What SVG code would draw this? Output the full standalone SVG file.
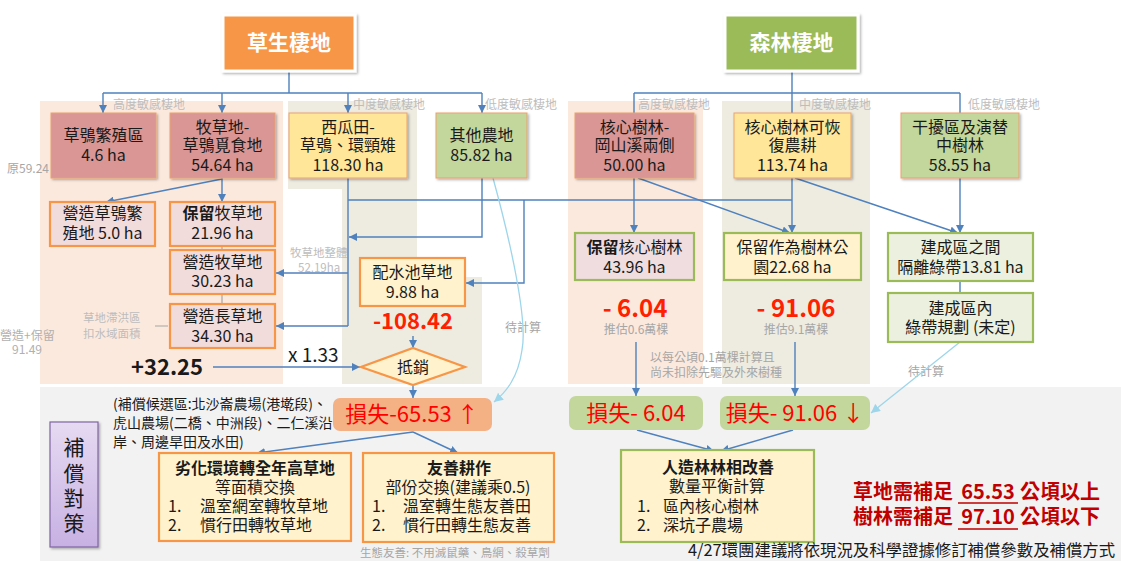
<svg xmlns="http://www.w3.org/2000/svg" width="1121" height="561" viewBox="0 0 1121 561">
<style>
text{font-family:"Noto Sans CJK TC","Noto Sans CJK SC",sans-serif;fill:#1a1a1a}
.n16{font-size:16px}
.c{text-anchor:middle}
.lbl{font-size:12px;fill:#BDBDBD}
.gry{font-size:12px;fill:#A6A6A6}
.red{fill:#FF2000;font-weight:bold}
.ttl{font-size:21px;font-weight:bold;fill:#fff}
.ln{stroke:#4F81BD;stroke-width:1.4;fill:none}
.lb{stroke:#9DD5EA;stroke-width:1.3;fill:none}
.gl{stroke:#A6A6A6;stroke-width:1.2;fill:none}
.top{stroke:#EBA16E;stroke-width:1}
.pk{fill:#D99694}.yl{fill:#FFE699}.gn{fill:#C3D69B}
.ob{stroke:#F79646;stroke-width:2.2}
.gb{stroke:#9BBB59;stroke-width:2.2}
.loss{font-size:22px;fill:#FF0000}
.bold{font-weight:bold}
</style>
<defs>
<filter id="sh" x="-10%" y="-10%" width="130%" height="140%">
<feDropShadow dx="1.5" dy="1.5" stdDeviation="1" flood-color="#000" flood-opacity="0.3"/>
</filter>
<marker id="ab" viewBox="0 0 10 10" refX="10" refY="5" markerWidth="8" markerHeight="8" markerUnits="userSpaceOnUse" orient="auto">
<path d="M0,0 L10,5 L0,10 z" fill="#4F81BD"/>
</marker>
<marker id="al" viewBox="0 0 10 10" refX="10" refY="5" markerWidth="9" markerHeight="9" markerUnits="userSpaceOnUse" orient="auto">
<path d="M0,0 L10,5 L0,10 z" fill="#9DD5EA"/>
</marker>
<linearGradient id="pg" x1="0" y1="0" x2="0" y2="1">
<stop offset="0" stop-color="#E6DAF2"/>
<stop offset="1" stop-color="#C7B1E3"/>
</linearGradient>
</defs>

<g id="zones">
<rect x="40" y="101" width="243" height="283" fill="#FCE9DD"/>
<path d="M288,101 H417 V277 H482 V384 H342 V189 H288 Z" fill="#EEECE1"/>
<rect x="568" y="101" width="135" height="283" fill="#FCE9DD"/>
<rect x="722" y="101" width="148" height="283" fill="#EEECE1"/>
<rect x="40" y="387" width="1081" height="174" fill="#F2F2F2"/>
</g>

<g id="zone-labels">
<text class="lbl" x="113" y="109">高度敏感棲地</text>
<text class="lbl" x="353" y="109">中度敏感棲地</text>
<text class="lbl" x="485" y="109">低度敏感棲地</text>
<text class="lbl" x="638" y="109">高度敏感棲地</text>
<text class="lbl" x="799" y="109">中度敏感棲地</text>
<text class="lbl" x="968" y="109">低度敏感棲地</text>
<text class="gry" x="7" y="173" font-size="13">原59.24</text>
<text class="lbl" x="290" y="257" style="font-size:11.5px">牧草地整體</text>
<text class="lbl" x="298" y="272" style="font-size:11.5px">52.19ha</text>
<text class="lbl" x="83" y="322" style="font-size:11.5px">草地滯洪區</text>
<text class="lbl" x="83" y="338" style="font-size:11.5px">扣水域面積</text>
<text class="lbl" x="0" y="340" style="fill:#B0B0B0">營造+保留</text>
<text class="lbl" x="12" y="354" style="fill:#B0B0B0">91.49</text>
<text class="lbl" x="505" y="332" style="fill:#A6A6A6">待計算</text>
<text class="lbl" x="908" y="376" style="fill:#A6A6A6">待計算</text>
</g>

<g id="connectors">
<path class="ln" d="M289,71 V93 M103,93 H482"/>
<path class="ln" d="M103,93 V113" marker-end="url(#ab)"/>
<path class="ln" d="M222,93 V113" marker-end="url(#ab)"/>
<path class="ln" d="M348,93 V113" marker-end="url(#ab)"/>
<path class="ln" d="M482,93 V113" marker-end="url(#ab)"/>
<path class="ln" d="M222,178 V202" marker-end="url(#ab)"/>
<path class="ln" d="M222,179 L106,202" marker-end="url(#ab)"/>
<path class="ln" d="M348,178 V326 M348,200 H792"/>
<path class="ln" d="M348,273 H276" marker-end="url(#ab)"/>
<path class="ln" d="M348,326 H276" marker-end="url(#ab)"/>
<path class="ln" d="M524,200 V283 H466" marker-end="url(#ab)"/>
<path class="ln" d="M482,178 V237 H349" marker-end="url(#ab)"/>
<path class="gl" d="M222,246 V250 M222,294 V304 M155,326 H168"/>
<path class="ln" d="M413,336 V348" marker-end="url(#ab)"/>
<path class="ln" d="M413,385 V398" marker-end="url(#ab)"/>
<path class="ln" d="M213,367 H360" marker-end="url(#ab)"/>
<path class="ln" d="M413,432 L257,453" marker-end="url(#ab)"/>
<path class="ln" d="M413,432 L458,453" marker-end="url(#ab)"/>
<path class="lb" d="M493,178 C510,240 528,320 522,350 C518,378 506,392 494,402" marker-end="url(#al)"/>
<path class="ln" d="M792,71 V93 M634,93 H960 M634,93 V113 M792,93 V113 M960,93 V113 M960,281 V293"/>
<path class="ln" d="M634,178 V233" marker-end="url(#ab)"/>
<path class="ln" d="M638,178 L790,233" marker-end="url(#ab)"/>
<path class="ln" d="M792,178 V233" marker-end="url(#ab)"/>
<path class="ln" d="M795,178 L958,233" marker-end="url(#ab)"/>
<path class="ln" d="M960,178 V233" marker-end="url(#ab)"/>
<path class="ln" d="M636,342 V396" marker-end="url(#ab)"/>
<path class="ln" d="M795,342 V396" marker-end="url(#ab)"/>
<path class="ln" d="M637,430 L714,451" marker-end="url(#ab)"/>
<path class="ln" d="M793,430 L721,451" marker-end="url(#ab)"/>
<path class="lb" d="M960,342 L871,413" marker-end="url(#al)"/>
</g>

<g id="title-grass">
<rect x="223" y="15" width="132" height="56" fill="#F79646" stroke="#fff" stroke-width="3" filter="url(#sh)"/>
<text class="ttl c" x="289" y="50">草生棲地</text>
</g>
<g id="title-forest">
<rect x="725" y="15" width="133" height="56" fill="#9BBB59" stroke="#fff" stroke-width="3" filter="url(#sh)"/>
<text class="ttl c" x="791.5" y="50">森林棲地</text>
</g>

<g id="n-breeding">
<rect class="pk top" x="51" y="113" width="105" height="65" filter="url(#sh)"/>
<text class="n16 c" x="103.5" y="141">草鴞繁殖區</text>
<text class="n16 c" x="103.5" y="161">4.6 ha</text>
</g>
<g id="n-pasture">
<rect class="pk top" x="170" y="113" width="105" height="65" filter="url(#sh)"/>
<text class="n16 c" x="222.5" y="133">牧草地-</text>
<text class="n16 c" x="222.5" y="151">草鴞覓食地</text>
<text class="n16 c" x="222.5" y="171">54.64 ha</text>
</g>
<g id="n-melon">
<rect class="yl top" x="289" y="113" width="118" height="65" filter="url(#sh)"/>
<text class="n16 c" x="348" y="133">西瓜田-</text>
<text class="n16 c" x="348" y="151">草鴞、環頸雉</text>
<text class="n16 c" x="348" y="171">118.30 ha</text>
</g>
<g id="n-other">
<rect class="gn top" x="436" y="113" width="91" height="65" filter="url(#sh)"/>
<text class="n16 c" x="481.5" y="141">其他農地</text>
<text class="n16 c" x="481.5" y="161">85.82 ha</text>
</g>
<g id="n-core">
<rect class="pk top" x="575" y="113" width="119" height="65" filter="url(#sh)"/>
<text class="n16 c" x="634.5" y="133">核心樹林-</text>
<text class="n16 c" x="634.5" y="151">岡山溪兩側</text>
<text class="n16 c" x="634.5" y="171">50.00 ha</text>
</g>
<g id="n-core-farm">
<rect class="yl top" x="734" y="113" width="117" height="65" filter="url(#sh)"/>
<text class="n16 c" x="792.5" y="133">核心樹林可恢</text>
<text class="n16 c" x="792.5" y="151">復農耕</text>
<text class="n16 c" x="792.5" y="171">113.74 ha</text>
</g>
<g id="n-disturb">
<rect class="gn top" x="901" y="113" width="118" height="65" filter="url(#sh)"/>
<text class="n16 c" x="960" y="133">干擾區及演替</text>
<text class="n16 c" x="960" y="151">中樹林</text>
<text class="n16 c" x="960" y="171">58.55 ha</text>
</g>

<g id="n-make-breeding">
<rect class="ob" x="50" y="202" width="105" height="44" fill="#F2DCDB"/>
<text class="n16 c" x="102.5" y="219">營造草鴞繁</text>
<text class="n16 c" x="102.5" y="239">殖地 5.0 ha</text>
</g>
<g id="n-keep-pasture">
<rect class="ob" x="170" y="202" width="105" height="44" fill="#F2DCDB"/>
<text class="n16 c" x="222.5" y="219"><tspan class="bold">保留</tspan>牧草地</text>
<text class="n16 c" x="222.5" y="239">21.96 ha</text>
</g>
<g id="n-make-pasture">
<rect class="ob" x="170" y="250" width="105" height="44" fill="#F2DCDB"/>
<text class="n16 c" x="222.5" y="268">營造牧草地</text>
<text class="n16 c" x="222.5" y="287">30.23 ha</text>
</g>
<g id="n-make-tall">
<rect class="ob" x="170" y="304" width="105" height="44" fill="#F2DCDB"/>
<text class="n16 c" x="222.5" y="322">營造長草地</text>
<text class="n16 c" x="222.5" y="342">34.30 ha</text>
</g>
<g id="n-reservoir">
<rect class="ob" x="360" y="258" width="105" height="48" fill="#FFF2CC"/>
<text class="n16 c" x="412.5" y="278">配水池草地</text>
<text class="n16 c" x="412.5" y="298">9.88 ha</text>
</g>
<text class="red c" x="413" y="329" font-size="22">-108.42</text>
<g id="n-offset">
<path class="ob" d="M413,348 L465,367 L413,385 L361,367 Z" fill="#FFF2CC"/>
<text class="n16 c" x="413" y="373">抵銷</text>
</g>
<text x="131" y="375" font-size="22" font-weight="bold">+32.25</text>
<text x="288" y="362" font-size="19">x 1.33</text>

<g id="n-keep-core">
<rect class="gb" x="575" y="233" width="119" height="47" fill="#F0DDDF"/>
<text class="n16 c" x="634.5" y="253"><tspan class="bold">保留</tspan>核心樹林</text>
<text class="n16 c" x="634.5" y="273">43.96 ha</text>
</g>
<g id="n-keep-park">
<rect class="gb" x="724" y="233" width="137" height="47" fill="#FFF2CC"/>
<text class="n16 c" x="792.5" y="253">保留作為樹林公</text>
<text class="n16 c" x="792.5" y="273">園22.68 ha</text>
</g>
<g id="n-buffer">
<rect class="gb" x="888" y="233" width="145" height="48" fill="#EBF1DE"/>
<text class="n16 c" x="960.5" y="253">建成區之間</text>
<text class="n16 c" x="960.5" y="273">隔離綠帶13.81 ha</text>
</g>
<g id="n-inner">
<rect class="gb" x="888" y="293" width="145" height="49" fill="#EBF1DE"/>
<text class="n16 c" x="960.5" y="314">建成區內</text>
<text class="n16 c" x="960.5" y="333">綠帶規劃 (未定)</text>
</g>
<text class="red c" x="635" y="317" font-size="24">- 6.04</text>
<text class="gry c" x="636" y="334">推估0.6萬棵</text>
<text class="red c" x="796" y="317" font-size="24">- 91.06</text>
<text class="gry c" x="796" y="334">推估9.1萬棵</text>
<text class="gry" x="650" y="362">以每公頃0.1萬棵計算且</text>
<text class="gry" x="650" y="377">尚未扣除先驅及外來樹種</text>

<g id="n-comp">
<rect x="50" y="422" width="48" height="125" fill="url(#pg)" stroke="#8064A2" stroke-width="1.2" filter="url(#sh)"/>
<text class="c" x="74" y="455" font-size="21">補</text>
<text class="c" x="74" y="481" font-size="21">償</text>
<text class="c" x="74" y="506" font-size="21">對</text>
<text class="c" x="74" y="531" font-size="21">策</text>
</g>
<text x="113" y="409" font-size="14">(補償候選區:北沙崙農場(港墘段)、</text>
<text x="113" y="428" font-size="14">虎山農場(二橋、中洲段)、二仁溪沿</text>
<text x="113" y="447" font-size="14">岸、周邊旱田及水田)</text>

<g id="n-loss-grass">
<rect x="333" y="398" width="159" height="33" rx="7" fill="#F4B183"/>
<text class="loss c" x="412" y="422">損失-65.53 ↑</text>
</g>
<g id="n-loss-core">
<rect x="569" y="396" width="134" height="34" rx="7" fill="#C3D69B"/>
<text class="loss c" x="636" y="421">損失- 6.04</text>
</g>
<g id="n-loss-park">
<rect x="720" y="396" width="150" height="34" rx="7" fill="#C3D69B"/>
<text class="loss c" x="795" y="421">損失- 91.06 ↓</text>
</g>

<g id="n-degraded">
<rect class="ob" x="159" y="453" width="192" height="88" fill="#FFF2CC"/>
<text class="n16 c bold" x="255" y="474">劣化環境轉全年高草地</text>
<text class="n16 c" x="255" y="493">等面積交換</text>
<text class="n16" x="168" y="512">1.</text>
<text class="n16" x="200" y="512">溫室網室轉牧草地</text>
<text class="n16" x="168" y="531">2.</text>
<text class="n16" x="200" y="531">慣行田轉牧草地</text>
</g>
<g id="n-friendly">
<rect class="ob" x="363" y="453" width="191" height="89" fill="#FFF2CC"/>
<text class="n16 c bold" x="459" y="474">友善耕作</text>
<text class="n16 c" x="458" y="493">部份交換(建議乘0.5)</text>
<text class="n16" x="372" y="512">1.</text>
<text class="n16" x="403" y="512">溫室轉生態友善田</text>
<text class="n16" x="372" y="531">2.</text>
<text class="n16" x="403" y="531">慣行田轉生態友善</text>
</g>
<text x="360" y="557" font-size="11.5" style="fill:#A6A6A6">生態友善: 不用滅鼠藥、鳥網、殺草劑</text>
<g id="n-plantation">
<rect class="gb" x="621" y="450" width="193" height="92" fill="#FFF2CC"/>
<text class="n16 c bold" x="718" y="473">人造林林相改善</text>
<text class="n16 c" x="717" y="492">數量平衡計算</text>
<text class="n16" x="637" y="512">1.</text>
<text class="n16" x="663" y="512">區內核心樹林</text>
<text class="n16" x="637" y="531">2.</text>
<text class="n16" x="663" y="531">深坑子農場</text>
</g>

<g id="summary" font-size="20" font-weight="bold">
<text x="853" y="499" style="fill:#C00000">草地需補足</text>
<text x="988" y="499" text-anchor="middle" style="fill:#C00000">65.53</text>
<text x="1020" y="499" style="fill:#C00000">公頃以上</text>
<text x="853" y="524" style="fill:#C00000">樹林需補足</text>
<text x="988" y="524" text-anchor="middle" style="fill:#C00000">97.10</text>
<text x="1020" y="524" style="fill:#C00000">公頃以下</text>
<path d="M958,503 H1018 M958,529 H1018" stroke="#C00000" stroke-width="1.5"/>
</g>
<text x="688" y="556" font-size="16.4">4/27環團建議將依現況及科學證據修訂補償參數及補償方式</text>
</svg>
